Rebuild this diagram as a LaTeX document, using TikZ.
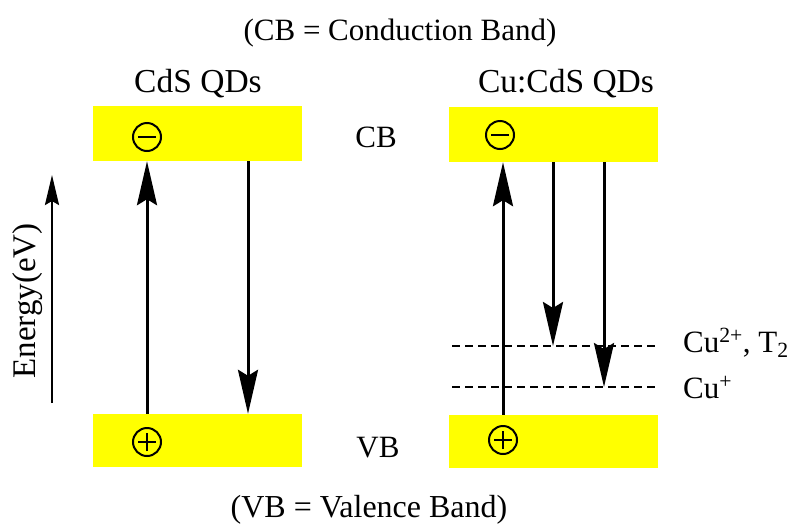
\documentclass[tikz,border=0pt]{standalone}
\usepackage{fontspec}
\setmainfont{Liberation Serif}
\usetikzlibrary{arrows.meta}
\definecolor{bandyellow}{RGB}{255,255,0}
\begin{document}
\begin{tikzpicture}[x=1pt,y=-1pt,
  band/.style={fill=bandyellow, minimum width=209pt, minimum height=54pt, inner sep=0pt},
  lbl/.style={font=\fontsize{31}{36}\selectfont, inner sep=0pt},
  biglbl/.style={font=\fontsize{33.5}{38}\selectfont, inner sep=0pt},
  charge/.style={circle, draw, line width=2pt, minimum size=28pt, inner sep=0pt},
  chargeminus/.style={charge, path picture={
      \draw[line width=2pt] ([xshift=-9pt]path picture bounding box.center) -- ([xshift=9pt]path picture bounding box.center);}},
  chargeplus/.style={charge, path picture={
      \draw[line width=2pt] ([xshift=-9pt]path picture bounding box.center) -- ([xshift=9pt]path picture bounding box.center);
      \draw[line width=2pt] ([yshift=-9pt]path picture bounding box.center) -- ([yshift=9pt]path picture bounding box.center);}},
  trans/.style={line width=3pt, -{Stealth[length=44pt,width=20pt,inset=6pt]}},
  level/.style={line width=2.5pt, dash pattern=on 8pt off 5pt},
]
\useasboundingbox (0,0) rectangle (792,528);

% titles
\node[lbl, anchor=base] (cbnote) at (400,40) {(CB = Conduction Band)};
\node[lbl, font=\fontsize{32}{37}\selectfont, anchor=base] (vbnote) at (369,517) {(VB = Valence Band)};
\node[biglbl, anchor=base] (cds) at (198,92) {CdS QDs};
\node[biglbl, anchor=base] (cucds) at (566,92) {Cu:CdS QDs};
\node[lbl, anchor=base] (cblbl) at (376,147) {CB};
\node[lbl, anchor=base] (vblbl) at (378,457) {VB};

% bands
\node[band, minimum height=55pt] (lcb) at (197.5,133.5) {};
\node[band, minimum height=53pt] (lvb) at (197.5,440.5) {};
\node[band, minimum height=55pt] (rcb) at (553.5,134.5) {};
\node[band, minimum height=53pt] (rvb) at (553,441.5) {};

% carriers
\node[chargeminus] (le) at (147,137) {};
\node[chargeplus] (lh) at (147,442) {};
\node[chargeminus] (re) at (500,135) {};
\node[chargeplus] (rh) at (503,440) {};

% energy axis
\coordinate (e0) at (52,403);
\coordinate (e1) at (52,175);
\draw[line width=2.5pt, -{Stealth[length=30pt,width=14pt,inset=4pt]}] (e0) -- (e1);
\node[lbl, font=\fontsize{33}{38}\selectfont, rotate=90] (energy) at (28,301) {Energy(eV)};

% dopant levels
\coordinate (l2a) at (452,346);
\coordinate (l2b) at (657,346);
\coordinate (l1a) at (452,387);
\coordinate (l1b) at (657,387);
\draw[level] (l2a) -- (l2b);
\draw[level] (l1a) -- (l1b);
\node[lbl, anchor=base west] (cu2) at (683,352) {Cu\textsuperscript{2+}, T\textsubscript{2}};
\node[lbl, anchor=base west] (cu1) at (683,398) {Cu\textsuperscript{+}};

% transitions, CdS
\coordinate (lup) at (147,0);
\coordinate (ldn) at (248,0);
\draw[trans] (lvb.north -| lup) -- (lcb.south -| lup);
\draw[trans] (lcb.south -| ldn) -- (lvb.north -| ldn);

% transitions, Cu:CdS
\coordinate (rup) at (503,0);
\coordinate (rd1) at (553,0);
\coordinate (rd2) at (604,0);
\draw[trans] (rvb.north -| rup) -- (rcb.south -| rup);
\draw[trans] (rcb.south -| rd1) -- (l2a -| rd1);
\draw[trans] (rcb.south -| rd2) -- (l1a -| rd2);
\end{tikzpicture}
\end{document}
